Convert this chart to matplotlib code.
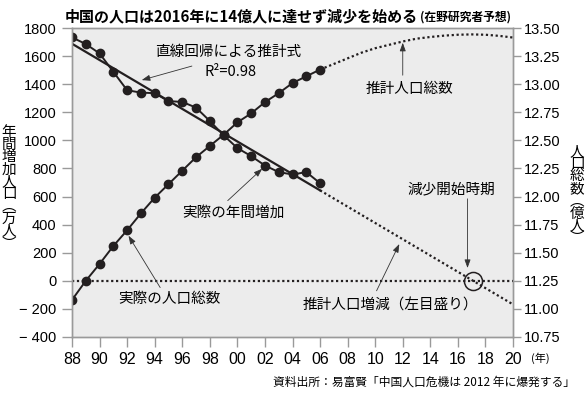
import matplotlib.pyplot as plt

# data
years_actual = list(range(1988, 2007))
annual_increase = [1733, 1686, 1619, 1488, 1357, 1340, 1336, 1279, 1274, 1233,
                   1138, 1036, 945, 888, 821, 774, 757, 774, 695]   # 万人
total_pop = [11.08, 11.25, 11.40, 11.56, 11.70, 11.85, 11.99, 12.11, 12.23, 12.35,
             12.45, 12.55, 12.66, 12.74, 12.84, 12.92, 13.01, 13.07, 13.13]  # 億人

est_years = list(range(2006, 2021))
est_total = [13.13, 13.18, 13.23, 13.28, 13.32, 13.35, 13.38, 13.405, 13.42,
             13.432, 13.44, 13.443, 13.44, 13.43, 13.415]

reg_years = [1988, 2006, 2020]
reg_values = [1688, 644, -168]
decline_year = 2017.1

xticks = list(range(1988, 2021, 2))
xlabels = ["%02d" % (y % 100) for y in xticks]
left_ticks = [-400, -200, 0, 200, 400, 600, 800, 1000, 1200, 1400, 1600, 1800]
left_labels = ["− 400", "− 200"] + [str(v) for v in left_ticks[2:]]
right_ticks = [10.75, 11.0, 11.25, 11.5, 11.75, 12.0, 12.25, 12.5, 12.75, 13.0, 13.25, 13.5]

jp = ["Noto Sans CJK JP", "DejaVu Sans"]
num = ["Liberation Sans", "Noto Sans CJK JP"]
ink = "#231f20"
grey = "#9a9a9a"

W, H = 587, 396
fig = plt.figure(figsize=(W / 100, H / 100), dpi=100)
ax = fig.add_axes([72 / W, 1 - 337 / H, (513 - 72) / W, (337 - 28) / H])
ax.set_facecolor("#ececec")
ax2 = ax.twinx()

# left axis: annual increase + regression
ax.axhline(0, color=ink, lw=1.6, ls=(0, (1, 1.2)), zorder=2)
ax.plot(reg_years[:2], reg_values[:2], color=ink, lw=1.6, zorder=3)
ax.plot(reg_years[1:], reg_values[1:], color=ink, lw=1.6, ls=(0, (1, 1.2)), zorder=3)
ax.plot(years_actual, annual_increase, color=ink, lw=1.4, marker="o", ms=6, zorder=4)
ax.plot([decline_year], [0], marker="o", ms=13, mfc="none", mec=ink, mew=1.1, zorder=5)

# right axis: total population
ax2.plot(years_actual, total_pop, color=ink, lw=1.4, marker="o", ms=6)
ax2.plot(est_years, est_total, color=ink, lw=1.6, ls=(0, (1, 1.2)))

ax.set_xlim(1988, 2020)
ax.set_ylim(-400, 1800)
ax2.set_ylim(10.75, 13.5)

ax.set_xticks(xticks)
ax.set_xticklabels(xlabels, family=num, fontsize=11.5)
ax.set_yticks(left_ticks)
ax.set_yticklabels(left_labels, family=num, fontsize=10.5)
ax2.set_yticks(right_ticks)
ax2.set_yticklabels(["%.2f" % v for v in right_ticks], family=num, fontsize=10.5)

for a in (ax, ax2):
    for s in a.spines.values():
        s.set_color(grey)
        s.set_linewidth(1)
ax.tick_params(axis="both", direction="out", length=7, width=1, color=grey, pad=4)
ax2.tick_params(axis="y", direction="out", length=6, width=1, color=grey, pad=2)

# annotations
arrow = dict(arrowstyle="-|>,head_length=0.5,head_width=0.18", color="#333333", lw=0.6,
             shrinkA=0, shrinkB=0)
ax.annotate("", xy=(1993.06, 1429), xytext=(1996.7, 1529), arrowprops=arrow)
ax.text(1999.3, 1631, "直線回帰による推計式", family=jp, fontsize=10.5, ha="center", va="center")
ax.text(1999.5, 1488, "R²=0.98", family=jp, fontsize=10.5, ha="center", va="center")

ax.annotate("", xy=(2012.0, 1695), xytext=(2012.0, 1464), arrowprops=arrow)
ax.text(2012.5, 1369, "推計人口総数", family=jp, fontsize=10.5, ha="center", va="center")

ax.annotate("", xy=(2001.8, 798), xytext=(1999.3, 571), arrowprops=arrow)
ax.text(1999.7, 488, "実際の年間増加", family=jp, fontsize=10.5, ha="center", va="center")

ax.annotate("", xy=(1992.1, 321), xytext=(1994.4, -48), arrowprops=arrow)
ax.text(1995.1, -131, "実際の人口総数", family=jp, fontsize=10.5, ha="center", va="center")

ax.annotate("", xy=(2011.75, 262), xytext=(2010.1, -71), arrowprops=arrow)
ax.text(2011.1, -179, "推計人口増減（左目盛り）", family=jp, fontsize=10.5, ha="center", va="center")

ax.annotate("", xy=(2016.7, 91), xytext=(2016.7, 584), arrowprops=arrow)
ax.text(2015.55, 648, "減少開始時期", family=jp, fontsize=10.5, ha="center", va="center")

# axis titles, stacked vertically
fig.text(9 / W, 1 - 188 / H, "\n".join("年間増加人口︵万人︶"), family=jp, fontsize=10.5,
         ha="center", va="center", linespacing=0.85)
fig.text(577 / W, 1 - 195 / H, "\n".join("人口総数︵億人︶"), family=jp, fontsize=10.5,
         ha="center", va="center", linespacing=0.85)

fig.text(531 / W, 1 - 358 / H, "(年)", family=jp, fontsize=8, ha="left", va="center")

title = fig.text(65 / W, 1 - 21 / H, "中国の人口は2016年に14億人に達せず減少を始める", family=jp,
                 fontsize=10.8, fontweight="bold", ha="left", va="baseline")
fig.canvas.draw()
tx1 = title.get_window_extent().x1
fig.text(tx1 / W + 0.003, 1 - 21 / H, "(在野研究者予想)", family=jp, fontsize=8.5,
         fontweight="bold", ha="left", va="baseline")

fig.text(575 / W, 1 - 382 / H, "資料出所：易富賢「中国人口危機は 2012 年に爆発する」", family=jp,
         fontsize=8.5, ha="right", va="center")

fig.savefig("out.png", dpi=100, facecolor="white")
